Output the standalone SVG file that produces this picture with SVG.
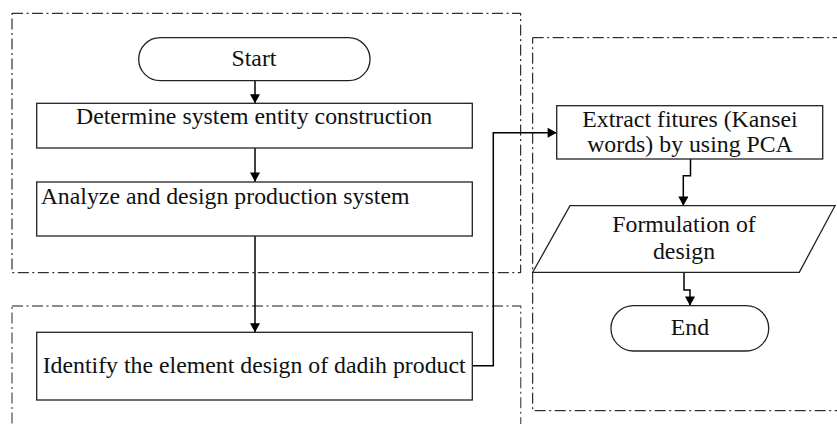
<svg xmlns="http://www.w3.org/2000/svg" width="837" height="424" viewBox="0 0 837 424">
<defs>
<marker id="ah" viewBox="0 0 10 11" refX="10" refY="5.5" markerWidth="11" markerHeight="10" markerUnits="userSpaceOnUse" orient="auto">
<path d="M0,0 L10,5.5 L0,11 Z" fill="#000"/>
</marker>
<style>
.grp{fill:none;stroke:#000;stroke-width:1;stroke-dasharray:11 3.5 2 3.5}
.grp2{fill:none;stroke:#666;stroke-width:1.4;stroke-dasharray:11 3.5 2 3.5}
.box{fill:#fff;stroke:#222;stroke-width:1.3}
.t{font-family:"Liberation Serif","Times New Roman",serif;font-size:23.8px;fill:#111}
.c{text-anchor:middle}
.con{fill:none;stroke:#000;stroke-width:1.5}
</style>
</defs>
<rect width="837" height="424" fill="#fff"/>
<g id="groups">
<rect class="grp" x="12" y="13.3" width="508.7" height="259.4"/>
<rect class="grp2" x="12" y="306" width="508.7" height="130"/>
<rect class="grp" x="532.7" y="37.7" width="320" height="373"/>
</g>
<g id="connectors">
<line class="con" x1="255" y1="80.7" x2="255" y2="103.3" marker-end="url(#ah)"/>
<line class="con" x1="255" y1="148" x2="255" y2="181.7" marker-end="url(#ah)"/>
<line class="con" x1="255" y1="236" x2="255" y2="332.3" marker-end="url(#ah)"/>
<polyline class="con" points="472.3,365.7 493.3,365.7 493.3,132.7 556.7,132.7" marker-end="url(#ah)"/>
<polyline class="con" points="690.5,159 690.5,175.7 683.3,175.7 683.3,205.7" marker-end="url(#ah)"/>
<polyline class="con" points="684,272.3 684,290 690,290 690,305.7" marker-end="url(#ah)"/>
</g>
<g id="start">
<rect class="box" x="138.7" y="37.7" width="231.3" height="43" rx="21.5" ry="21.5"/>
<text class="t c" x="254" y="65.7">Start</text>
</g>
<g id="determine">
<rect class="box" x="36.7" y="103.3" width="435.6" height="44.7"/>
<text class="t" x="76" y="124">Determine system entity construction</text>
</g>
<g id="analyze">
<rect class="box" x="36.7" y="182" width="435.6" height="54"/>
<text class="t" x="40.7" y="204.3">Analyze and design production system</text>
</g>
<g id="identify">
<rect class="box" x="36.7" y="332.3" width="435.6" height="67.7"/>
<text class="t" x="42.7" y="372.7">Identify the element design of dadih product</text>
</g>
<g id="extract">
<rect class="box" x="556.7" y="105.7" width="266" height="53.3"/>
<text class="t c" x="690" y="126.7">Extract fitures (Kansei</text>
<text class="t c" x="690" y="151.7">words) by using PCA</text>
</g>
<g id="formulation">
<polygon class="box" points="570,205.7 835,205.7 799.3,272.3 532.7,272.3"/>
<text class="t c" x="684" y="232">Formulation of</text>
<text class="t c" x="684" y="259">design</text>
</g>
<g id="end">
<rect class="box" x="611" y="305.7" width="157.7" height="45.3" rx="22.6" ry="22.6"/>
<text class="t c" x="690" y="335">End</text>
</g>
</svg>
